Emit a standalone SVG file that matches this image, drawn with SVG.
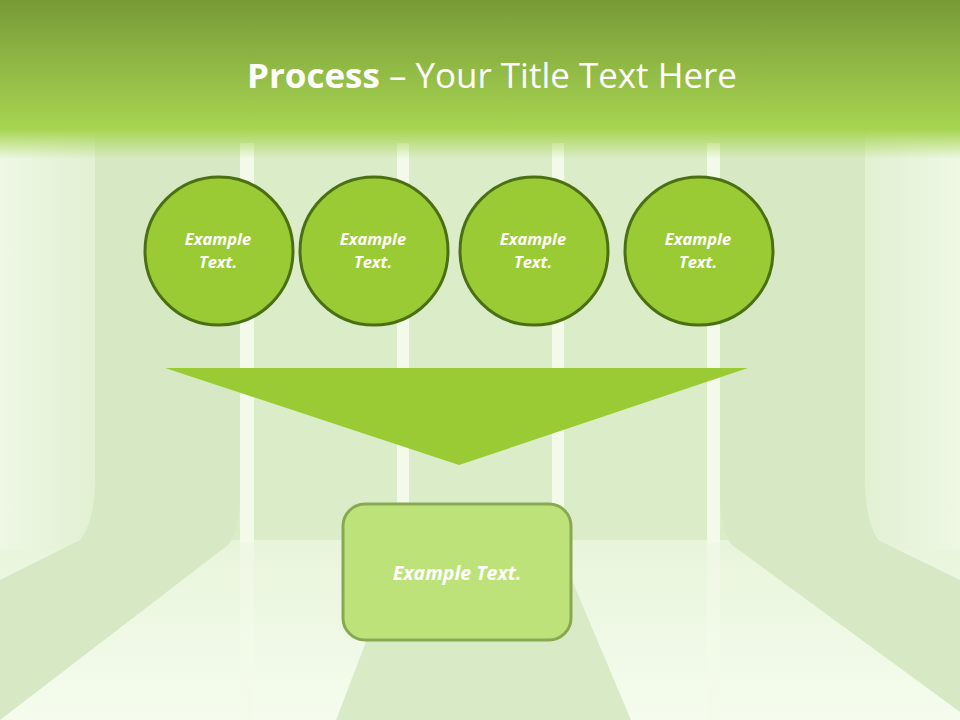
<svg xmlns="http://www.w3.org/2000/svg" width="960" height="720" viewBox="0 0 960 720">
<defs>
<linearGradient id="hdr" x1="0" y1="0" x2="0" y2="1">
<stop offset="0" stop-color="#789a36"/>
<stop offset="0.5" stop-color="#90b845"/>
<stop offset="1" stop-color="#a7d551"/>
</linearGradient>
<linearGradient id="fade" x1="0" y1="0" x2="0" y2="1">
<stop offset="0" stop-color="#a7d551" stop-opacity="1"/>
<stop offset="1" stop-color="#a7d551" stop-opacity="0"/>
</linearGradient>
<linearGradient id="wallL" x1="0" y1="0" x2="1" y2="0">
<stop offset="0" stop-color="#eef8e4"/>
<stop offset="1" stop-color="#e2f0d3"/>
</linearGradient>
<linearGradient id="wallR" x1="1" y1="0" x2="0" y2="0">
<stop offset="0" stop-color="#eef8e4"/>
<stop offset="1" stop-color="#e2f0d3"/>
</linearGradient>
<linearGradient id="floor" x1="0" y1="0" x2="0" y2="1">
<stop offset="0" stop-color="#e8f5db"/>
<stop offset="1" stop-color="#f5fcee"/>
</linearGradient>
<style>
.node circle{fill:#9acb34;stroke:#4b6f13;stroke-width:3}
.lbl{font-family:"Open Sans","Liberation Sans",sans-serif;font-weight:bold;font-style:italic;fill:#ffffff;text-anchor:middle}
.strip{fill:#f3faea}
</style>
</defs>
<rect width="960" height="720" fill="#dbecc8"/>
<rect x="0" y="540" width="960" height="180" fill="url(#floor)"/>
<rect x="0" y="130" width="95" height="420" fill="url(#wallL)"/>
<rect x="865" y="130" width="95" height="420" fill="url(#wallR)"/>
<path d="M95,130 H240 V500 Q238,535 228,545 L0,720 V580 L80,540 Q95,520 95,480 Z" fill="#d7e9c4"/>
<path d="M865,130 H720 V500 Q722,535 732,545 L960,712 V580 L878,540 Q865,520 865,480 Z" fill="#d7e9c4"/>
<path d="M405,540 H555 L631,720 H336 Z" fill="#d9ebc6"/>
<rect x="240" y="143" width="14" height="400" class="strip"/>
<rect x="397" y="143" width="12" height="400" class="strip"/>
<rect x="552" y="143" width="12" height="400" class="strip"/>
<rect x="707" y="143" width="13" height="400" class="strip"/>
<rect x="240" y="540" width="14" height="180" fill="#f3faea" opacity="0.6"/>
<rect x="707" y="540" width="13" height="180" fill="#f3faea" opacity="0.6"/>
<rect x="0" y="0" width="960" height="130" fill="url(#hdr)"/>
<rect x="0" y="129" width="960" height="30" fill="url(#fade)"/>
<text x="492" y="88" font-family="'Open Sans','Liberation Sans',sans-serif" font-size="34" fill="#ffffff" text-anchor="middle" textLength="490" lengthAdjust="spacingAndGlyphs"><tspan font-weight="bold">Process</tspan> – Your Title Text Here</text>
<g id="connectors">
<path d="M165,368 H748 L459,465 Z" fill="#9acb34"/>
</g>
<g id="node1" class="node"><circle cx="219" cy="251" r="74"/><text class="lbl" x="218" y="245" font-size="16.5">Example</text><text class="lbl" x="218" y="268" font-size="16.5">Text.</text></g>
<g id="node2" class="node"><circle cx="374" cy="251" r="74"/><text class="lbl" x="373" y="245" font-size="16.5">Example</text><text class="lbl" x="373" y="268" font-size="16.5">Text.</text></g>
<g id="node3" class="node"><circle cx="534" cy="251" r="74"/><text class="lbl" x="533" y="245" font-size="16.5">Example</text><text class="lbl" x="533" y="268" font-size="16.5">Text.</text></g>
<g id="node4" class="node"><circle cx="699" cy="251" r="74"/><text class="lbl" x="698" y="245" font-size="16.5">Example</text><text class="lbl" x="698" y="268" font-size="16.5">Text.</text></g>
<g id="result"><rect x="343" y="504" width="228" height="136" rx="22" fill="#bee27a" stroke="#88a852" stroke-width="3"/><text class="lbl" x="457" y="580" font-size="19.5">Example Text.</text></g>
</svg>
